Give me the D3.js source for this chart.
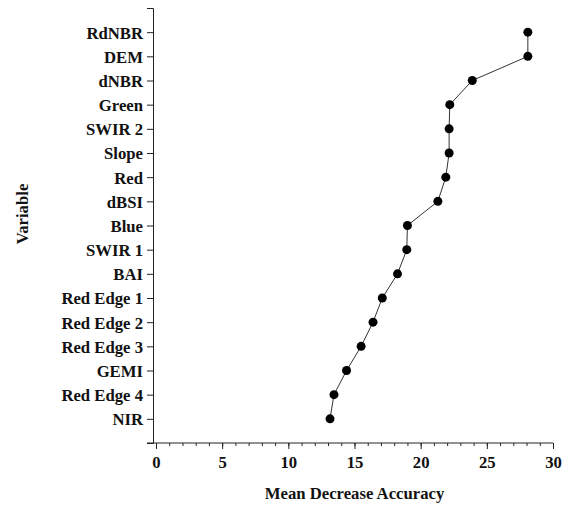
<!DOCTYPE html>
<html>
<head>
<meta charset="utf-8">
<script src="https://cdn.jsdelivr.net/npm/d3@7"></script>
<style>
    body { margin: 0; background: #fff; }
</style>
</head>
<body>
<div class="dot_chart"></div>
<script>
// Variables, top to bottom
const variables = ["RdNBR", "DEM", "dNBR", "Green", "SWIR 2", "Slope", "Red", "dBSI", "Blue",
    "SWIR 1", "BAI", "Red Edge 1", "Red Edge 2", "Red Edge 3", "GEMI", "Red Edge 4", "NIR"];

// Mean decrease accuracy for each variable
const accuracy = [28.1, 28.1, 23.9, 22.2, 22.15, 22.15, 21.9, 21.3, 19.0,
    18.95, 18.25, 17.1, 16.4, 15.5, 14.4, 13.45, 13.15];

const xTicks = [0, 5, 10, 15, 20, 25, 30];

const FONT = '"Liberation Serif"';
const FONT_SIZE = "16.7px";

function styleText(sel) {
    sel.style("font-family", FONT)
        .style("font-weight", "bold")
        .style("font-size", FONT_SIZE)
        .style("fill", "#111");
}

function drawChart() {
    const width = 568;
    const height = 505;

    const svg = d3.select(".dot_chart")
        .append("svg")
        .attr("width", width)
        .attr("height", height);

    const data = variables.map((v, i) => ({ name: v, value: accuracy[i] }));

    // Scales
    const x = d3.scaleLinear()
        .domain([0, 30])
        .range([156, 553]);

    const y = d3.scalePoint()
        .domain(variables)
        .range([8, 443])
        .padding(1);

    const axisX = 153;
    const axisY = 443;

    // Y axis
    const yAxis = svg.append("g")
        .attr("transform", `translate(${axisX},0)`)
        .call(d3.axisLeft(y).tickSize(6).tickSizeOuter(6).tickPadding(4));
    yAxis.selectAll("text").call(styleText).attr("dy", "0.35em");
    yAxis.selectAll("path, line").attr("stroke", "#222");

    // X axis, minor ticks first
    svg.append("g")
        .attr("transform", `translate(0,${axisY})`)
        .call(d3.axisBottom(x).ticks(30).tickSize(3).tickFormat("").tickSizeOuter(0))
        .call(g => g.select(".domain").remove())
        .selectAll("line").attr("stroke", "#222");

    const xAxis = svg.append("g")
        .attr("transform", `translate(0,${axisY})`)
        .call(d3.axisBottom(x).tickValues(xTicks).tickSize(6).tickSizeOuter(0).tickPadding(7));
    xAxis.select(".domain").remove();
    xAxis.selectAll("text").call(styleText);
    xAxis.selectAll("line").attr("stroke", "#222");

    svg.append("line")
        .attr("x1", axisX - 6)
        .attr("x2", x(30))
        .attr("y1", axisY)
        .attr("y2", axisY)
        .attr("stroke", "#222");

    // Axis titles
    svg.append("text")
        .attr("x", (x(0) + x(30)) / 2)
        .attr("y", 499)
        .attr("text-anchor", "middle")
        .call(styleText)
        .text("Mean Decrease Accuracy");

    svg.append("text")
        .attr("transform", "translate(28,214) rotate(-90)")
        .attr("text-anchor", "middle")
        .call(styleText)
        .text("Variable");

    // Connecting line
    const line = d3.line()
        .x(d => x(d.value))
        .y(d => y(d.name));

    svg.append("path")
        .datum(data)
        .attr("d", line)
        .attr("fill", "none")
        .attr("stroke", "#333")
        .attr("stroke-width", 1);

    // Points
    svg.selectAll(".dot")
        .data(data)
        .enter()
        .append("circle")
        .attr("class", "dot")
        .attr("cx", d => x(d.value))
        .attr("cy", d => y(d.name))
        .attr("r", 4.5)
        .attr("fill", "#000");
}

document.addEventListener("DOMContentLoaded", drawChart);
</script>
</body>
</html>
